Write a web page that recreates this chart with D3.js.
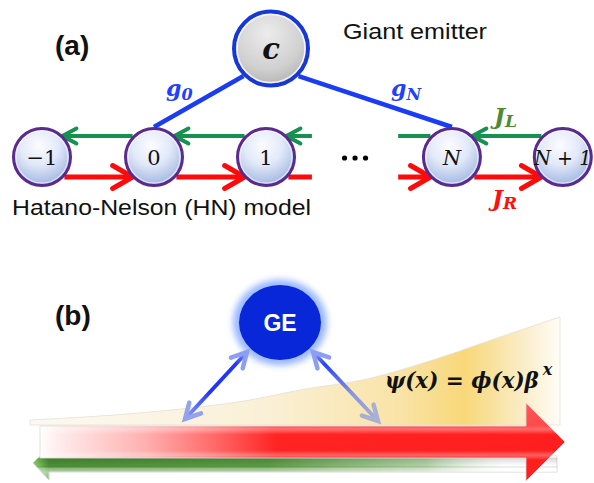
<!DOCTYPE html>
<html><head><meta charset="utf-8">
<script src="https://cdn.jsdelivr.net/npm/d3@7"></script>
<style>body{margin:0;background:#fff}svg{display:block}</style>
</head><body>
<script>
// ---------- data ----------
const nodeLabels = ["−1", "0", "1", "N", "N + 1"];
const nodeSlots = [0, 1, 2, 3.66, 4.65];          // lattice slot of each drawn site
const nodeItalic = [false, false, false, true, true];
const couplingNodes = [1, 3];                      // sites coupled to the giant emitter
const couplingSubs = ["0", "N"];
const hopNames = ["J", "J"];
const hopSubs = ["L", "R"];
const breakSlots = [2.41, 3.18];                   // where the chain is interrupted (⋯)
const profileX = [0, 0.226, 0.415, 0.509, 0.636, 0.760, 0.887, 1.0];
const profileAmp = [0.046, 0.12, 0.231, 0.324, 0.426, 0.602, 0.815, 1.0];
const texts = {
  a: "(a)", b: "(b)", ge: "Giant emitter", hn: "Hatano-Nelson (HN) model",
  c: "c", geShort: "GE", formula: "ψ(x) = ϕ(x)β", formulaSup: "x"
};

// ---------- setup ----------
const W = 594, H = 483;
const svg = d3.select("body").append("svg").attr("width", W).attr("height", H);
svg.append("rect").attr("width", W).attr("height", H).attr("fill", "#fff");
const defs = svg.append("defs");

const xs = d3.scaleLinear().domain([0, 1]).range([42, 154]);
const R = 30, nodeY = 157, rowL = 136, rowR = 177;
const green = "#179150", red = "#ff0a0a", blue = "#1a3cf5";
const serif = "'DejaVu Serif', 'Liberation Serif', serif";
const sans = "'Liberation Sans', Arial, sans-serif";

function grad(id, type, attrs, stops) {
  const g = defs.append(type).attr("id", id);
  Object.entries(attrs).forEach(([k, v]) => g.attr(k, v));
  stops.forEach(s => g.append("stop").attr("offset", s[0]).attr("stop-color", s[1]).attr("stop-opacity", s[2] == null ? 1 : s[2]));
  return g;
}
grad("nodeGrad", "radialGradient", {cx: "45%", cy: "30%", r: "75%"},
  [[0, "#fbfcff"], [0.45, "#e2e9f8"], [1, "#98afe0"]]);
grad("cGrad", "radialGradient", {cx: "45%", cy: "30%", r: "80%"},
  [[0, "#ececec"], [0.6, "#d0d0d0"], [1, "#a9a9a9"]]);

function chevron(g, tx, ty, ang, len, half, color, w) {
  const c = Math.cos(ang), s = Math.sin(ang);
  const bx = tx - len * c, by = ty - len * s;
  const px = -s, py = c;
  g.append("path")
    .attr("d", `M${bx + half * px},${by + half * py}L${tx},${ty}L${bx - half * px},${by - half * py}`)
    .attr("fill", "none").attr("stroke", color).attr("stroke-width", w)
    .attr("stroke-linecap", "round").attr("stroke-linejoin", "miter");
}

// ---------- panel (a) ----------
const gA = svg.append("g");
const cx0 = 271, cy0 = 48.5, cR = 39;

// coupling lines
const cAngles = [Math.PI * 0.75, Math.PI * 0.25];
couplingNodes.forEach((ni, k) => {
  const sx = cx0 + cR * Math.cos(cAngles[k]), sy = cy0 + cR * Math.sin(cAngles[k]);
  gA.append("line").attr("x1", sx).attr("y1", sy)
    .attr("x2", xs(nodeSlots[ni])).attr("y2", nodeY - R)
    .attr("stroke", blue).attr("stroke-width", 4.5);
});

// hopping lines
const dL = Math.sqrt(R * R - (rowL - nodeY) ** 2);
const dR = Math.sqrt(R * R - (rowR - nodeY) ** 2);
const nx = nodeSlots.map(s => xs(s));
const bx1 = xs(breakSlots[0]), bx2 = xs(breakSlots[1]);
const greenSegs = [
  [nx[1] - dL, nx[0] + dL, true],
  [nx[2] - dL, nx[1] + dL, true],
  [bx1, nx[2] + dL, true],
  [nx[3] - dL, bx2, false],
  [nx[4] - dL, nx[3] + dL, true]
];
const redSegs = [
  [nx[0] + dR, nx[1] - dR, true],
  [nx[1] + dR, nx[2] - dR, true],
  [nx[2] + dR, bx1, false],
  [bx2, nx[3] - dR, true],
  [nx[3] + dR, nx[4] - dR, true]
];
greenSegs.forEach(s => {
  gA.append("line").attr("x1", s[0]).attr("x2", s[1]).attr("y1", rowL).attr("y2", rowL)
    .attr("stroke", green).attr("stroke-width", 4);
  if (s[2]) chevron(gA, s[1] - 1, rowL, Math.PI, 14, 7.5, green, 4);
});
redSegs.forEach(s => {
  gA.append("line").attr("x1", s[0]).attr("x2", s[1]).attr("y1", rowR).attr("y2", rowR)
    .attr("stroke", red).attr("stroke-width", 5);
  if (s[2]) chevron(gA, s[1] + 1, rowR, 0, 20, 11.5, red, 5);
});

// ellipsis
const midB = (bx1 + bx2) / 2;
[-10.5, 0, 10.5].forEach(d => gA.append("circle").attr("cx", midB + d).attr("cy", 158).attr("r", 2.6).attr("fill", "#000"));

// nodes
nodeLabels.forEach((lab, i) => {
  const g = gA.append("g").attr("transform", `translate(${nx[i]},${nodeY})`);
  g.append("circle").attr("r", R - 1.5).attr("fill", "url(#nodeGrad)")
    .attr("stroke", "#5a2a8e").attr("stroke-width", 3);
  g.append("circle").attr("r", R - 4).attr("fill", "none")
    .attr("stroke", "#ffffff").attr("stroke-opacity", 0.6).attr("stroke-width", 1.2);
  const t = g.append("text").attr("x", 0).attr("y", 7.5).attr("text-anchor", "middle")
    .attr("font-family", serif).attr("font-size", 21)
    .attr("font-style", nodeItalic[i] ? "italic" : "normal").attr("fill", "#111").text(lab);
  if (lab.length > 3) t.attr("textLength", 57).attr("lengthAdjust", "spacingAndGlyphs").attr("font-size", 20);
});

// giant emitter circle c
gA.append("circle").attr("cx", cx0).attr("cy", cy0).attr("r", cR - 2).attr("fill", "url(#cGrad)")
  .attr("stroke", "#1638d8").attr("stroke-width", 4);
gA.append("circle").attr("cx", cx0).attr("cy", cy0).attr("r", cR - 5).attr("fill", "none")
  .attr("stroke", "#fff").attr("stroke-opacity", 0.8).attr("stroke-width", 1.5);
gA.append("text").attr("x", cx0).attr("y", 59).attr("text-anchor", "middle")
  .attr("font-family", serif).attr("font-weight", "bold").attr("font-style", "italic")
  .attr("font-size", 29).attr("fill", "#111").text(texts.c);

// coupling labels
const gLabPos = [[166, 96], [391, 96]];
couplingSubs.forEach((sub, k) => {
  const t = gA.append("text").attr("x", gLabPos[k][0]).attr("y", gLabPos[k][1])
    .attr("font-family", serif).attr("font-weight", "bold").attr("font-style", "italic")
    .attr("font-size", 22).attr("fill", "#1e40ff");
  t.append("tspan").text("g");
  t.append("tspan").attr("dy", 4).attr("font-size", 16).text(sub);
});

// hopping labels
const jPos = [[494, 124], [492, 206]];
const jCol = ["#4f8a30", "#ff1010"];
hopNames.forEach((n, k) => {
  const t = gA.append("text").attr("x", jPos[k][0]).attr("y", jPos[k][1])
    .attr("font-family", serif).attr("font-weight", "bold").attr("font-style", "italic")
    .attr("font-size", 23).attr("fill", jCol[k]);
  t.append("tspan").text(n);
  t.append("tspan").attr("dy", 3).attr("font-size", 17).text(hopSubs[k]);
});

// texts
gA.append("text").attr("x", 55).attr("y", 55).attr("font-family", sans).attr("font-weight", "bold")
  .attr("font-size", 28).attr("fill", "#111").text(texts.a);
gA.append("text").attr("x", 343).attr("y", 39).attr("font-family", sans)
  .attr("font-size", 22).attr("textLength", 144).attr("lengthAdjust", "spacingAndGlyphs")
  .attr("fill", "#111").text(texts.ge);
gA.append("text").attr("x", 12).attr("y", 215).attr("font-family", sans)
  .attr("font-size", 21.5).attr("textLength", 299).attr("lengthAdjust", "spacingAndGlyphs")
  .attr("fill", "#111").text(texts.hn);

// ---------- panel (b) ----------
const gB = svg.append("g");
gB.append("text").attr("x", 55).attr("y", 325).attr("font-family", sans).attr("font-weight", "bold")
  .attr("font-size", 28).attr("fill", "#111").text(texts.b);

// wavefunction profile
const px = d3.scaleLinear().domain([0, 1]).range([30, 560]);
const py = d3.scaleLinear().domain([0, 1]).range([425, 317]);
grad("yellowGrad", "linearGradient", {x1: 30, x2: 560, y1: 0, y2: 0, gradientUnits: "userSpaceOnUse"},
  [[0, "#fcf9f2"], [0.45, "#faf0d6"], [0.7, "#f9e3a6"], [0.82, "#f8d879"], [0.92, "#faeac0"], [1, "#fffdf8"]]);
const area = d3.area().x((d, i) => px(profileX[i])).y0(425).y1((d, i) => py(profileAmp[i])).curve(d3.curveMonotoneX);
gB.append("path").attr("d", area(profileX)).attr("fill", "url(#yellowGrad)")
  .attr("stroke", "#e4e0d4").attr("stroke-width", 0.8);

// red arrow (rightward)
grad("redGrad", "linearGradient", {x1: 40, x2: 565, y1: 0, y2: 0, gradientUnits: "userSpaceOnUse"},
  [[0, "#ffffff"], [0.03, "#ffeeee"], [0.2, "#ffb0b0"], [0.32, "#ff7070"], [0.45, "#ff2424"], [1, "#ff1e1e"]]);
grad("glossGrad", "linearGradient", {x1: 0, x2: 0, y1: 403, y2: 482, gradientUnits: "userSpaceOnUse"},
  [[0, "#fff", 0.25], [0.29, "#fff", 0.2], [0.33, "#fff", 0.35], [0.4, "#fff", 0.0], [0.6, "#fff", 0], [0.66, "#fff", 0.3], [0.72, "#fff", 0.0], [1, "#fff", 0]]);
const redPts = [[40, 426], [526, 426], [526, 403], [565, 442], [526, 481], [526, 458], [40, 458]];
const line = d3.line();

// green arrow (leftward)
grad("greenGrad", "linearGradient", {x1: 33, x2: 557, y1: 0, y2: 0, gradientUnits: "userSpaceOnUse"},
  [[0, "#8fd86a"], [0.03, "#4a8f34"], [0.45, "#5a9a42"], [0.75, "#9cc68c", 0.8], [0.9, "#ffffff", 0.3], [1, "#ffffff", 0]]);
grad("greenShade", "linearGradient", {x1: 0, x2: 0, y1: 447, y2: 481, gradientUnits: "userSpaceOnUse"},
  [[0, "#fff", 0.3], [0.3, "#fff", 0.45], [0.36, "#000", 0.12], [0.55, "#000", 0.0], [0.62, "#fff", 0.35], [0.74, "#fff", 0.55], [1, "#fff", 0.3]]);
const greenPts = [[33, 463], [49, 447], [49, 456], [557, 456], [557, 472], [49, 472], [49, 480]];
gB.append("path").attr("d", line(greenPts) + "Z").attr("fill", "url(#greenGrad)")
  .attr("stroke", "#cfcfcf").attr("stroke-width", 0.8);
gB.append("path").attr("d", line(greenPts) + "Z").attr("fill", "url(#greenShade)");

gB.append("path").attr("d", line(redPts) + "Z").attr("fill", "url(#redGrad)")
  .attr("stroke", "#d9d9d9").attr("stroke-width", 0.8);
gB.append("path").attr("d", line(redPts) + "Z").attr("fill", "url(#glossGrad)");

// GE emitter
const geX = 280, geY = 322.5;
const blur = defs.append("filter").attr("id", "glow").attr("x", "-50%").attr("y", "-50%").attr("width", "200%").attr("height", "200%");
blur.append("feGaussianBlur").attr("stdDeviation", 3);
gB.append("ellipse").attr("cx", geX).attr("cy", geY).attr("rx", 47).attr("ry", 43)
  .attr("fill", "#9ab8ff").attr("filter", "url(#glow)");
gB.append("ellipse").attr("cx", geX).attr("cy", geY).attr("rx", 41).attr("ry", 37.5).attr("fill", "#0727d8");
gB.append("text").attr("x", geX).attr("y", 331).attr("text-anchor", "middle").attr("font-family", sans)
  .attr("font-weight", "bold").attr("font-size", 23).attr("fill", "#fff").text(texts.geShort);

// coupling double arrows
const links = [[[247, 352], [185, 419], ["#8e9ff2", "#1f35ff", "#1f35ff", "#93a3ee"]],
               [[313, 352], [378, 421], ["#8e9ff2", "#2440ff", "#8895dc", "#a9b0d4"]]];
links.forEach((lk, k) => {
  const [a, b, cols] = lk;
  const id = "lg" + k;
  grad(id, "linearGradient", {x1: a[0], y1: a[1], x2: b[0], y2: b[1], gradientUnits: "userSpaceOnUse"},
    [[0, cols[0]], [0.18, cols[1]], [0.6, cols[2]], [1, cols[3]]]);
  gB.append("line").attr("x1", a[0]).attr("y1", a[1]).attr("x2", b[0]).attr("y2", b[1])
    .attr("stroke", `url(#${id})`).attr("stroke-width", 4);
  const ang = Math.atan2(b[1] - a[1], b[0] - a[0]);
  chevron(gB, a[0], a[1], ang + Math.PI, 15, 8, cols[0], 4.5);
  chevron(gB, b[0], b[1], ang, 15, 8, cols[3], 4.5);
});

// formula (natural width, sized to span the reference's extent)
const fx = 385, fTarget = 154;
const fMain = gB.append("text").attr("x", fx).attr("y", 388).attr("font-family", serif)
  .attr("font-weight", "bold").attr("font-style", "italic").attr("font-size", 25).attr("fill", "#111")
  .text(texts.formula);
const w0 = fMain.node().getComputedTextLength();
const fs = 25 * fTarget / w0;
fMain.attr("font-size", fs);
const w1 = fMain.node().getComputedTextLength();
gB.append("text").attr("x", fx + w1 + 4).attr("y", 375).attr("font-family", serif)
  .attr("font-weight", "bold").attr("font-style", "italic").attr("font-size", 16).attr("fill", "#111")
  .text(texts.formulaSup);
</script>
</body></html>
